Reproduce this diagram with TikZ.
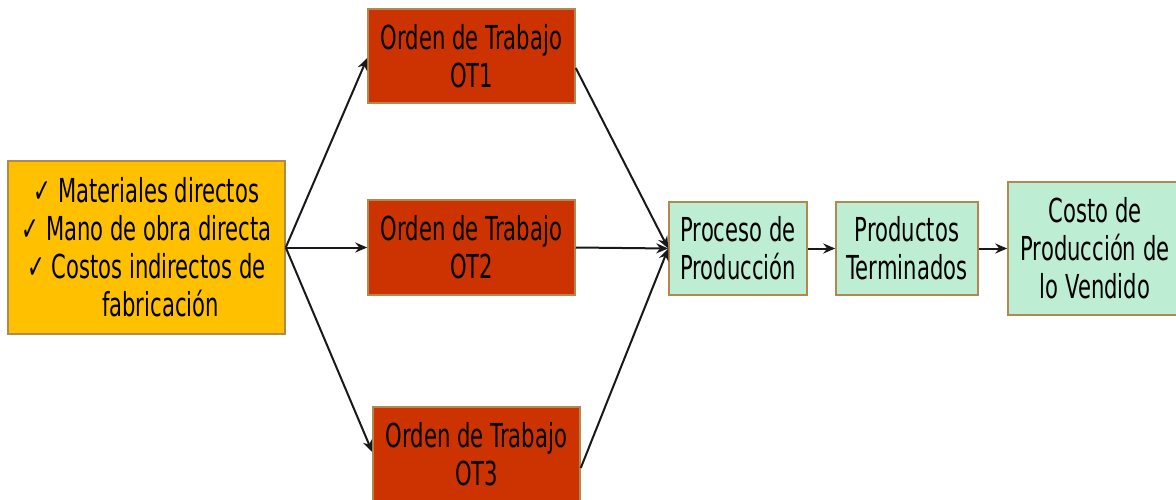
\documentclass[tikz,border=0pt]{standalone}
\usepackage{fontspec}
\setmainfont{DejaVu Sans}[FakeStretch=0.64]
\usetikzlibrary{arrows.meta}
\definecolor{goldc}{HTML}{FFC000}
\definecolor{redc}{HTML}{CC3300}
\definecolor{mintc}{HTML}{BDEDD3}
\definecolor{edgec}{HTML}{B08850}
\tikzset{
  box/.style={draw=edgec, line width=1.5pt, align=center, inner sep=0pt,
    font=\fontsize{33}{38}\selectfont, text=black},
  flow/.style={draw=black!90, line width=2pt, -{Stealth[length=12pt,width=10pt]}}
}
\begin{document}
\begin{tikzpicture}[x=1pt,y=-1pt]
\useasboundingbox (0,0) rectangle (1176,500);
\node[box, fill=goldc, minimum width=277pt, minimum height=173pt] (mat) at (146.5,247.5)
  {✓ Materiales directos\\✓ Mano de obra directa\\✓ Costos indirectos de\\\hspace*{28pt}fabricación};
\node[box, fill=redc, minimum width=207pt, minimum height=94pt] (ot1) at (471.5,56) {Orden de Trabajo\\OT1};
\node[box, fill=redc, minimum width=207pt, minimum height=95pt] (ot2) at (471.5,247.5) {Orden de Trabajo\\OT2};
\node[box, fill=redc, minimum width=207pt, minimum height=95pt] (ot3) at (476.5,454.5) {Orden de Trabajo\\OT3};
\node[box, fill=mintc, minimum width=138pt, minimum height=93pt] (proc) at (738,248.5) {Proceso de\\Producción};
\node[box, fill=mintc, minimum width=142pt, minimum height=93pt] (prod) at (907,248.5) {Productos\\Terminados};
\node[box, fill=mintc, minimum width=174pt, minimum height=133pt] (costo) at (1095,248.5) {Costo de\\Producción de\\lo Vendido};
\draw[flow] (mat.east) -- ([yshift=-2pt]ot1.west);
\draw[flow] (mat.east) -- (ot2.west);
\draw[flow] (mat.east) -- ([yshift=2.5pt]ot3.west);
\draw[flow] ([yshift=-12pt]ot1.east) -- (proc.west);
\draw[flow] (ot2.east) -- (proc.west);
\draw[flow] ([yshift=-13.5pt]ot3.east) -- (proc.west);
\draw[flow] (proc.east) -- (prod.west);
\draw[flow] (prod.east) -- (costo.west);
\end{tikzpicture}
\end{document}
